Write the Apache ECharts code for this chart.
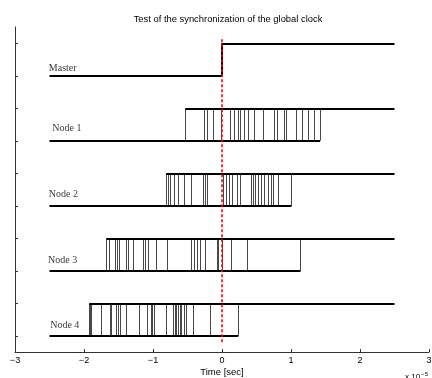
<!DOCTYPE html>
<html>
<head>
<meta charset="utf-8">
<script src="https://cdn.jsdelivr.net/npm/echarts@6/dist/echarts.min.js"></script>
<style>
  html, body {margin: 0; padding: 0; background: #fff;}
  #chart {width: 432px; height: 378px;}
</style>
</head>
<body>
<div id="chart"></div>
<script>
// times in units of 1e-5 s
const tStart = -2.5;
const tEnd = 2.5;
const xTicks = [-3, -2, -1, 0, 1, 2, 3];
const yTicks = [0, 1, 2, 3, 4, 5, 6, 7, 8, 9];

const names = ['Master', 'Node 1', 'Node 2', 'Node 3', 'Node 4'];
const lowLevels = [8, 6, 4, 2, 0];

// rising edge times of every run, one list per signal
const masterEdges = [0];
const node1Edges = [-0.532, -0.251, -0.213, -0.130, -0.01, 0.121, 0.184, 0.232, 0.271, 0.329, 0.387,
  0.464, 0.594, 0.763, 0.797, 0.899, 0.932, 1.077, 1.159, 1.246, 1.343, 1.420];
const node2Edges = [-0.812, -0.783, -0.754, -0.696, -0.638, -0.551, -0.442, -0.275, -0.246, -0.210,
  0.014, 0.058, 0.101, 0.152, 0.217, 0.261, 0.420, 0.449, 0.486, 0.529, 0.565, 0.609, 0.667, 0.710,
  0.739, 0.812, 1.007];
const node3Edges = [-1.674, -1.638, -1.551, -1.522, -1.493, -1.384, -1.355, -1.290, -1.145, -1.109,
  -1.072, -0.949, -0.797, -0.442, -0.406, -0.362, -0.312, -0.239, -0.072, -0.051, 0.007, 0.138,
  0.370, 1.138];
const node4Edges = [-1.923, -1.913, -1.888, -1.743, -1.623, -1.599, -1.526, -1.503, -1.478, -1.381,
  -1.199, -1.083, -1.029, -1.004, -0.981, -0.801, -0.706, -0.681, -0.657, -0.633, -0.609, -0.584,
  -0.551, -0.512, -0.416, -0.174, 0.236];
const edges = [masterEdges, node1Edges, node2Edges, node3Edges, node4Edges];

const labelX = [-2.51, -2.46, -2.51, -2.52, -2.49];
const labelY = [8.24, 6.39, 4.36, 2.33, 0.33];
const refLine = [[0, -0.2], [0, 9.12]];

const horiz = [];
const verts = [];
edges.forEach((list, i) => {
    const lo = lowLevels[i], hi = lo + 1;
    const first = Math.min(...list), last = Math.max(...list);
    horiz.push({coords: [[tStart, lo], [last, lo]]});
    horiz.push({coords: [[first, hi], [tEnd, hi]]});
    list.forEach(t => {
        if (i === 0) horiz.push({coords: [[t, lo], [t, hi]]});
        else verts.push({coords: [[t, lo], [t, hi]]});
    });
});

const labels = names.map((n, i) => ({name: n, value: [labelX[i], labelY[i]]}));

const chart = echarts.init(document.getElementById('chart'));
chart.setOption({
    animation: false,
    title: {
        text: 'Test of the synchronization of the global clock',
        left: 223, top: 10, textAlign: 'center',
        textStyle: {fontFamily: 'Liberation Sans', fontSize: 9.4, fontWeight: 'normal', color: '#000'}
    },
    grid: {left: 15, right: 3, top: 27, bottom: 26, outerBoundsMode: 'none', containLabel: false},
    xAxis: {
        type: 'value', min: -3, max: 3, interval: 1,
        name: 'Time [sec]', nameLocation: 'middle', nameGap: 15, nameMoveOverlap: false,
        nameTextStyle: {fontFamily: 'Liberation Sans', fontSize: 9.5, color: '#000'},
        axisLine: {onZero: false, lineStyle: {color: '#333', width: 1}},
        axisTick: {inside: true, length: 3, lineStyle: {color: '#333'}},
        axisLabel: {
            fontFamily: 'Liberation Sans', fontSize: 9, color: '#000', margin: 4,
            customValues: xTicks,
            formatter: v => String(v).replace('-', '\u2212')
        },
        splitLine: {show: false}
    },
    yAxis: {
        type: 'value', min: -0.5, max: 9.5,
        axisLine: {show: true, onZero: false, lineStyle: {color: '#333', width: 1}},
        axisTick: {show: true, inside: true, length: 3, customValues: yTicks, lineStyle: {color: '#333'}},
        axisLabel: {show: false},
        splitLine: {show: false}
    },
    graphic: [{
        type: 'text', left: 405, top: 371,
        style: {
            text: 'x 10{s|\u22125}',
            rich: {s: {fontSize: 6, verticalAlign: 'top', padding: [0, 0, 6, 1], fontFamily: 'Liberation Sans'}},
            fontFamily: 'Liberation Sans', fontSize: 8, fill: '#000'
        }
    }],
    series: [
        {
            type: 'lines', coordinateSystem: 'cartesian2d', z: 2,
            lineStyle: {color: '#000', width: 0.9, opacity: 0.8},
            data: verts
        },
        {
            type: 'lines', coordinateSystem: 'cartesian2d', z: 3,
            lineStyle: {color: '#000', width: 2, opacity: 1},
            data: horiz
        },
        {
            type: 'line', z: 4, symbol: 'none',
            lineStyle: {color: '#f00', width: 1.6, type: [3, 2]},
            data: refLine
        },
        {
            type: 'scatter', symbolSize: 0, z: 5,
            label: {
                show: true, position: 'right', distance: 0, formatter: '{b}',
                fontFamily: 'Liberation Serif', fontSize: 10, color: '#000'
            },
            data: labels
        }
    ]
});
</script>
</body>
</html>
